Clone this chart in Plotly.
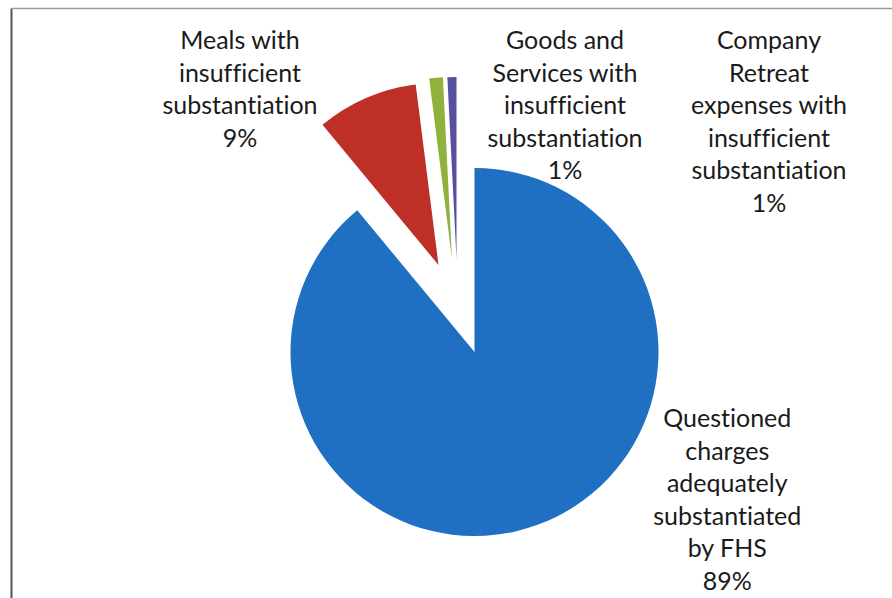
import plotly.graph_objects as go

# ---- data ----
categories = [
    "Questioned charges adequately substantiated by FHS",
    "Meals with insufficient substantiation",
    "Goods and Services with insufficient substantiation",
    "Company Retreat expenses with insufficient substantiation",
]
label_lines = [
    ["Questioned", "charges", "adequately", "substantiated", "by FHS"],
    ["Meals with", "insufficient", "substantiation"],
    ["Goods and", "Services with", "insufficient", "substantiation"],
    ["Company", "Retreat", "expenses with", "insufficient", "substantiation"],
]
values = [89.0, 9.0, 1.2, 0.8]
colors = ["#1f6fc2", "#bd2f27", "#8fb23c", "#57509f"]

W, H = 892, 598
TRANSPARENT = "rgba(0,0,0,0)"


def dom(cx, cy, r):
    return dict(x=[(cx - r) / W, (cx + r) / W], y=[(H - cy - r) / H, (H - cy + r) / H])


# which slice each layer shows, and where that layer's centre sits (exploded slices)
layers = [
    ([0], 474.5, 352, 184),
    ([1], 438.5, 265, 182),
    ([2], 452, 259, 182),
    ([3], 456.5, 259, 182),
]

fig = go.Figure()
for visible_idx, cx, cy, r in layers:
    fig.add_trace(go.Pie(
        labels=categories,
        values=values,
        sort=False,
        direction="clockwise",
        rotation=0,
        marker=dict(colors=[c if i in visible_idx else TRANSPARENT for i, c in enumerate(colors)],
                    line=dict(width=0)),
        textinfo="none",
        hoverinfo="label+percent",
        showlegend=False,
        domain=dom(cx, cy, r),
    ))

total = sum(values)
pcts = [f"{round(v / total * 100)}%" for v in values]

# label block centres (pixels)
label_pos = [(727, 498.5), (240, 87.5), (565, 104), (769, 120.5)]
for lines, pct, (px, py) in zip(label_lines, pcts, label_pos):
    fig.add_annotation(
        text="<br>".join(lines + [pct]),
        x=px / W, y=1 - py / H, xref="paper", yref="paper",
        xanchor="center", yanchor="middle", showarrow=False,
        font=dict(family="Lato", size=25, color="#1a1a1a"),
        align="center",
    )

# chart frame (left and top edges visible)
fig.add_shape(type="line", xref="paper", yref="paper",
              x0=11.5 / W, x1=11.5 / W, y0=0, y1=1 - 8.5 / H,
              line=dict(color="#555555", width=2))
fig.add_shape(type="line", xref="paper", yref="paper",
              x0=11.5 / W, x1=1, y0=1 - 8.5 / H, y1=1 - 8.5 / H,
              line=dict(color="#9a9a9a", width=1.5))

fig.update_layout(
    width=W, height=H,
    margin=dict(l=0, r=0, t=0, b=0),
    paper_bgcolor="white",
    plot_bgcolor="white",
)

post = """
document.body.style.margin = '0';
document.body.style.overflow = 'hidden';
var st = document.createElement('style');
st.textContent = 'text { font-variant-ligatures: none !important; font-feature-settings: "liga" 0, "clig" 0 !important; }';
document.head.appendChild(st);
"""
fig.write_html("out.html", post_script=post, config={"displayModeBar": False})
